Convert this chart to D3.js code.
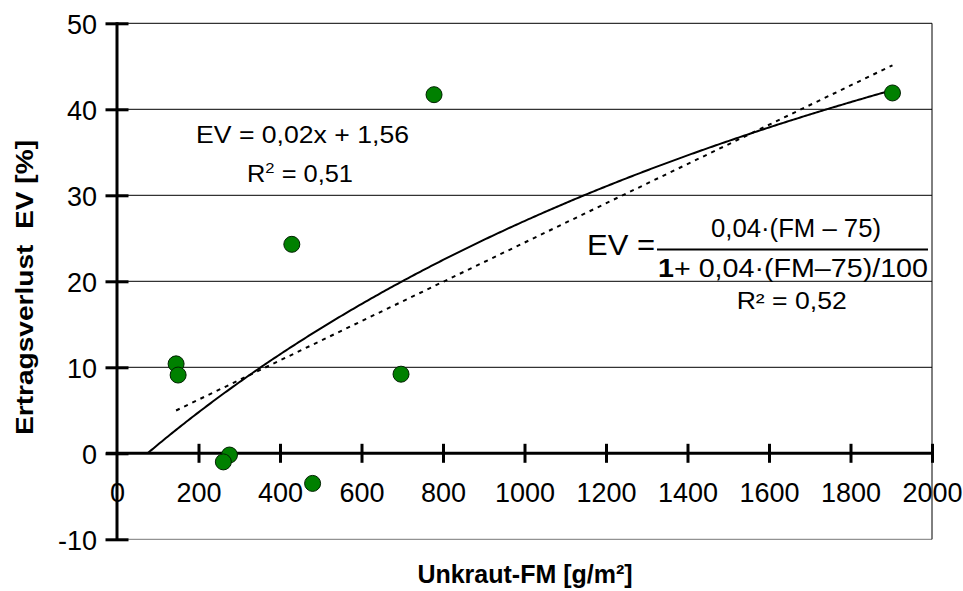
<!DOCTYPE html>
<html><head><meta charset="utf-8">
<script src="https://cdn.jsdelivr.net/npm/d3@7"></script>
<style>body{margin:0;background:#fff;} text{font-family:"Liberation Sans",Arial,Helvetica,sans-serif;fill:#000;}</style>
</head><body><svg id="c" width="963" height="591"></svg>
<script>
// ---- data ----
const fmValues = [145, 150, 429, 778, 697, 1903, 276, 261, 480];
const evValues = [10.4, 9.1, 24.3, 41.7, 9.2, 41.9, -0.2, -1.0, -3.5];
const xTickValues = [0, 200, 400, 600, 800, 1000, 1200, 1400, 1600, 1800, 2000];
const yTickValues = [-10, 0, 10, 20, 30, 40, 50];
const gridValues = [-10, 10, 20, 30, 40, 50];
const modelParams = [0.04, 75, 100];     // EV = a(FM-b)/(1+a(FM-b)/c)
const modelRange = [75, 1904];
const linearLabel = ["EV = 0,02x + 1,56", "0,51"];
const modelLabel = ["EV =", "0,04\u00B7(FM \u2013 75)", "+ 0,04\u00B7(FM\u201375)/100", "R\u00B2 = 0,52"];
const xTitle = "Unkraut-FM [g/m\u00B2]";
const yTitle = "Ertragsverlust  EV [%]";

const svg = d3.select("#c");
const x = d3.scaleLinear().domain([0, 2000]).range([117, 932]);
const y = d3.scaleLinear().domain([-10, 50]).range([539.3, 23.3]);

// gridlines
svg.append("g").selectAll("line").data(gridValues).join("line")
  .attr("x1", x(0)).attr("x2", x(2000))
  .attr("y1", d => y(d)).attr("y2", d => y(d))
  .attr("stroke", d => d === -10 ? "#777" : "#000").attr("stroke-width", 1);
// right border
svg.append("line").attr("x1", x(2000)).attr("x2", x(2000)).attr("y1", y(50)).attr("y2", y(-10))
  .attr("stroke", "#000").attr("stroke-width", 1);

// y axis
const yAxis = d3.axisLeft(y).tickValues(yTickValues).tickSize(0).tickPadding(0).tickFormat(d => String(d));
const gy = svg.append("g").attr("transform", `translate(${x(0)},0)`).call(yAxis);
gy.select(".domain").remove();
gy.selectAll(".tick text").attr("x", -20).attr("dy", "0.36em")
  .style("font-size", "27px").style("font-family", "'Liberation Sans',Arial,sans-serif");
gy.selectAll(".tick").append("line").attr("x1", -11.5).attr("x2", 11.5)
  .attr("stroke", "#000").attr("stroke-width", 3);
svg.append("line").attr("x1", x(0)).attr("x2", x(0)).attr("y1", y(50) - 1).attr("y2", y(-10) + 1)
  .attr("stroke", "#000").attr("stroke-width", 3);

// x axis (at y = 0)
const xAxis = d3.axisBottom(x).tickValues(xTickValues).tickSize(0).tickPadding(0).tickFormat(d => String(d));
const gx = svg.append("g").attr("transform", `translate(0,${y(0)})`).call(xAxis);
gx.select(".domain").remove();
gx.selectAll(".tick text").attr("y", 30).attr("dy", "0.71em")
  .style("font-size", "27px").style("font-family", "'Liberation Sans',Arial,sans-serif");
gx.selectAll(".tick").filter(d => d !== 0).append("line").attr("y1", -9.5).attr("y2", 9.5)
  .attr("stroke", "#000").attr("stroke-width", 3);
svg.append("line").attr("x1", x(0) - 11).attr("x2", x(2000)).attr("y1", y(0)).attr("y2", y(0))
  .attr("stroke", "#000").attr("stroke-width", 3);

// linear trendline (least squares of the points)
const mx = d3.mean(fmValues), my = d3.mean(evValues);
const slope = d3.sum(fmValues, (v, i) => (v - mx) * (evValues[i] - my)) / d3.sum(fmValues, v => (v - mx) ** 2);
const icpt = my - slope * mx;
const xExt = d3.extent(fmValues);
svg.append("line")
  .attr("x1", x(xExt[0])).attr("y1", y(icpt + slope * xExt[0]))
  .attr("x2", x(xExt[1])).attr("y2", y(icpt + slope * xExt[1]))
  .attr("stroke", "#000").attr("stroke-width", 2).attr("stroke-dasharray", "4,5");

// model curve
const [a, b, c] = modelParams;
const fmSamples = d3.range(modelRange[0], modelRange[1], 5).concat([modelRange[1]]);
const line = d3.line().x(d => x(d)).y(d => y(a * (d - b) / (1 + a * (d - b) / c)));
svg.append("path").datum(fmSamples).attr("d", line)
  .attr("fill", "none").attr("stroke", "#000").attr("stroke-width", 2);

// points
svg.append("g").selectAll("circle").data(fmValues).join("circle")
  .attr("cx", d => x(d)).attr("cy", (d, i) => y(evValues[i])).attr("r", 8)
  .attr("fill", "#008000").attr("stroke", "#002000").attr("stroke-width", 1);

// linear equation label
svg.append("text").attr("x", 302.5).attr("y", 142.7).attr("text-anchor", "middle")
  .style("font-size", "23px").attr("textLength", 213).attr("lengthAdjust", "spacingAndGlyphs")
  .text(linearLabel[0]);
const r2a = svg.append("text").attr("x", 247).attr("y", 181.7).style("font-size", "23px")
  .attr("textLength", 106).attr("lengthAdjust", "spacingAndGlyphs");
r2a.append("tspan").text("R");
r2a.append("tspan").attr("dy", -9).style("font-size", "15px").text("2");
r2a.append("tspan").attr("dy", 9).text(" = " + linearLabel[1]);

// model equation label
svg.append("text").attr("x", 587).attr("y", 255).style("font-size", "30px")
  .attr("textLength", 68).attr("lengthAdjust", "spacingAndGlyphs").text(modelLabel[0]);
svg.append("text").attr("x", 796).attr("y", 237).attr("text-anchor", "middle").style("font-size", "25px")
  .attr("textLength", 170).attr("lengthAdjust", "spacingAndGlyphs").text(modelLabel[1]);
svg.append("line").attr("x1", 657).attr("x2", 928).attr("y1", 249.5).attr("y2", 249.5)
  .attr("stroke", "#000").attr("stroke-width", 2);
const den = svg.append("text").attr("x", 658).attr("y", 277.3).style("font-size", "25px")
  .attr("textLength", 270).attr("lengthAdjust", "spacingAndGlyphs");
den.append("tspan").style("font-weight", "bold").text("1");
den.append("tspan").text(modelLabel[2]);
svg.append("text").attr("x", 791.7).attr("y", 309.3).attr("text-anchor", "middle").style("font-size", "23px")
  .attr("textLength", 110).attr("lengthAdjust", "spacingAndGlyphs").text(modelLabel[3]);

// axis titles
svg.append("text").attr("x", 525).attr("y", 583).attr("text-anchor", "middle")
  .style("font-size", "25px").style("font-weight", "bold").text(xTitle);
svg.append("text").attr("transform", "translate(32.5,287.5) rotate(-90)").attr("text-anchor", "middle")
  .style("font-size", "24px").style("font-weight", "bold").style("white-space", "pre")
  .attr("textLength", 295).attr("lengthAdjust", "spacingAndGlyphs").text(yTitle);
</script></body></html>
